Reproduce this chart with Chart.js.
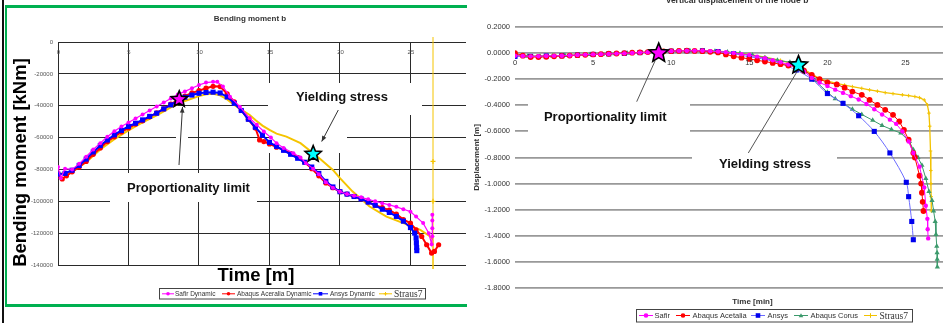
<!DOCTYPE html>
<html>
<head>
<meta charset="utf-8">
<script src="https://cdn.jsdelivr.net/npm/chart.js@4.4.0/dist/chart.umd.min.js"></script>
<style>
  html, body { margin: 0; padding: 0; background: #fff; }
  #wrap { position: relative; width: 948px; height: 323px; overflow: hidden; }
  canvas { position: absolute; left: 0; top: 0; }
  .ln { position: absolute; }
</style>
</head>
<body>
<div id="wrap">
  <div class="ln" style="left:1.5px;top:0;width:2px;height:323px;background:#111"></div>
  <div class="ln" style="left:4.5px;top:5px;width:462px;height:2.5px;background:#00b050"></div>
  <div class="ln" style="left:4.5px;top:5px;width:2.5px;height:301px;background:#00b050"></div>
  <div class="ln" style="left:4.5px;top:303.5px;width:462px;height:3px;background:#00b050"></div>
  <canvas id="left" width="948" height="323"></canvas>
  <canvas id="right" width="948" height="323"></canvas>
</div>
<script>
// ---- left chart : bending moment b (time, kNm) ----
const leftSafirT = [0,0.2,0.5,1,1.5,2,2.5,3,3.5,4,4.5,5,5.5,6,6.5,7,7.5,8,8.5,9,9.5,10,10.5,11,11.3,11.7,12.2,12.9,13.6,14.1,14.6,15.1,15.5,16,16.7,17.2,17.6,18.1,18.5,19,19.5,20,20.5,21,21.5,22,22.5,23,23.5,24,24.5,25,25.4,25.9,26.3,26.5,26.55,26.55,26.55,26.55];
const leftSafirM = [-78500,-85500,-79500,-80000,-76500,-72000,-67500,-63500,-59500,-56000,-53000,-50500,-48000,-45500,-43000,-40500,-38000,-35500,-33000,-31000,-29000,-27000,-25500,-25000,-25000,-28000,-34300,-40600,-47900,-52000,-56200,-60000,-63500,-66500,-69800,-72500,-76100,-79500,-83000,-88000,-91500,-94000,-95500,-96500,-97500,-98800,-100000,-101200,-102300,-103500,-105000,-106500,-109600,-113700,-120000,-127000,-122000,-117000,-112000,-108500];

const leftAbaqusT = [0,0.3,0.6,1,1.5,2,2.5,3,3.5,4,4.5,5,5.5,6,6.5,7,7.5,8,8.5,9,9.5,10,10.5,11,11.5,12,12.5,13,13.5,14,14.3,14.6,15,15.5,16,16.5,17,17.5,18,18.5,19,19.5,20,20.5,21,21.5,22,22.5,23,23.5,24,24.5,25,25.4,25.8,26.15,26.5,26.7,27];
const leftAbaqusM = [-83500,-86000,-84000,-81500,-78500,-75000,-70500,-66500,-62500,-59500,-56500,-54000,-51500,-49500,-47000,-44500,-42000,-39000,-36500,-34000,-32000,-30500,-29000,-27800,-28000,-32500,-37500,-43000,-48500,-54000,-61500,-62500,-64000,-66000,-67700,-70000,-72500,-75500,-79500,-84000,-88500,-91500,-94000,-95500,-97000,-98500,-100500,-102500,-104000,-105500,-108000,-111500,-113700,-117900,-122100,-127300,-132500,-131500,-127300];

const leftAnsysT = [0,0.5,1,1.5,2,2.5,3,3.5,4,4.5,5,5.5,6,6.5,7,7.5,8,8.5,9,9.5,10,10.5,11,11.5,12,12.5,13,13.5,14,14.5,15,15.5,16,16.5,17,17.5,18,18.5,19,19.5,20,20.5,21,21.5,22,22.5,23,23.5,24,24.5,25,25.3,25.4,25.42,25.44,25.45];
const leftAnsysM = [-83000,-82500,-80500,-77500,-73500,-69000,-65000,-61500,-58300,-55500,-53000,-51000,-48900,-46700,-44700,-42000,-39500,-37000,-34700,-33300,-32200,-31700,-31500,-32000,-34500,-38500,-43000,-48500,-53500,-58500,-63000,-65500,-68000,-70500,-73000,-75500,-78500,-82500,-87500,-91000,-94000,-95500,-97000,-98500,-100500,-102500,-105000,-107000,-109500,-112500,-116500,-120000,-123000,-126000,-129000,-131000];

const leftStrausT = [0,1,2,3,4,5,6,7,8,9,10,10.5,11,11.5,12,12.5,13,13.6,14,14.5,15,15.5,16.2,17.2,18.1,18.6,19.5,20,20.9,22.1,23.3,24.5,25.7,26.4,26.6,26.6,26.6,26.6,26.6];
const leftStrausM = [-83000,-81500,-75500,-67500,-61000,-55500,-50500,-46000,-41000,-37000,-34000,-32800,-32500,-33500,-36000,-39500,-42500,-45800,-49000,-52500,-55200,-57500,-59400,-63500,-69800,-73500,-80300,-85500,-93900,-103300,-109600,-113700,-117900,-122100,-124000,-145000,-100000,-75000,5000];
const leftStrausMarked = [36, 37];

const leftStarT = [8.6, 18.1];
const leftStarM = [-36000, -70400];

// ---- right chart : vertical displacement of the node b (time, m) ----
const rightSafirT = [0,0.5,1,1.5,2,2.5,3,3.5,4,4.5,5,5.5,6,6.5,7,7.5,8,8.5,9,9.5,10,10.5,11,11.5,12,12.5,13,13.5,14,14.5,15,15.5,16,16.5,17,17.5,18,18.5,19,19.5,20,20.5,21,21.5,22,22.5,23,23.5,24,24.4,24.8,25.2,25.5,25.9,26.2,26.3,26.4,26.42,26.45];
const rightSafirD = [-0.02,-0.022,-0.025,-0.024,-0.022,-0.021,-0.02,-0.018,-0.015,-0.012,-0.01,-0.008,-0.006,-0.004,-0.002,0.001,0.004,0.007,0.01,0.012,0.015,0.017,0.018,0.018,0.018,0.015,0.012,0.006,0.0,-0.008,-0.015,-0.027,-0.04,-0.055,-0.07,-0.087,-0.105,-0.14,-0.19,-0.225,-0.252,-0.28,-0.305,-0.33,-0.355,-0.39,-0.43,-0.47,-0.51,-0.542,-0.6,-0.677,-0.766,-0.87,-1.03,-1.17,-1.27,-1.35,-1.42];

const rightAbaqusT = [0,0.5,1,1.5,2,2.5,3,3.5,4,4.5,5,5.5,6,6.5,7,7.5,8,8.5,9,9.5,10,10.5,11,11.5,12,12.5,13,13.5,14,14.5,15,15.5,16,16.5,17,17.5,18,18.5,19,19.5,20,20.6,21.1,21.6,22.2,22.7,23.2,23.7,24.2,24.6,24.9,25.2,25.5,25.6,25.9,26,26.05,26.1,26.15];
const rightAbaqusD = [0.0,-0.02,-0.03,-0.03,-0.028,-0.025,-0.022,-0.019,-0.016,-0.013,-0.01,-0.008,-0.005,-0.003,0.0,0.003,0.005,0.008,0.01,0.013,0.015,0.017,0.018,0.017,0.015,0.01,0.005,-0.01,-0.025,-0.035,-0.045,-0.055,-0.065,-0.075,-0.085,-0.095,-0.105,-0.135,-0.168,-0.2,-0.224,-0.24,-0.265,-0.295,-0.32,-0.359,-0.397,-0.435,-0.473,-0.524,-0.588,-0.664,-0.766,-0.8,-0.94,-1.0,-1.07,-1.14,-1.21];

const rightAnsysT = [0,1,2,3,4,5,6,7,8,9,10,11,12,13,14,15,16,17,18,19,20,21,22,23,24,25.05,25.2,25.4,25.5];
const rightAnsysD = [-0.025,-0.025,-0.022,-0.02,-0.015,-0.01,-0.006,-0.002,0.004,0.01,0.015,0.018,0.018,0.012,-0.005,-0.028,-0.048,-0.079,-0.13,-0.2,-0.31,-0.385,-0.48,-0.6,-0.765,-0.99,-1.1,-1.29,-1.43];

const rightCorusT = [0,0.8,1.6,2.4,3.2,4,4.8,5.6,6.4,7.2,8,8.8,9.6,10.4,11.2,12,12.8,13.6,14.4,15.2,16,16.8,17.6,18.4,19.2,20,20.5,21,21.6,22.2,22.9,23.5,24.1,24.7,25.25,25.5,25.8,26.05,26.3,26.5,26.7,26.8,26.9,26.95,27,27.02,27.03,27.04];
const rightCorusD = [-0.02,-0.024,-0.024,-0.022,-0.019,-0.015,-0.011,-0.008,-0.005,-0.001,0.004,0.008,0.012,0.016,0.018,0.018,0.014,0.008,-0.002,-0.015,-0.035,-0.055,-0.07,-0.11,-0.21,-0.3,-0.35,-0.385,-0.43,-0.47,-0.515,-0.555,-0.585,-0.613,-0.677,-0.74,-0.8,-0.86,-0.96,-1.06,-1.13,-1.21,-1.29,-1.39,-1.48,-1.53,-1.58,-1.64];

const rightStrausT = [0,1,2,3,4,5,6,7,8,9,10,11,12,13,14,15,16,17,18,18.5,19,19.5,20,20.6,21.1,21.6,22.2,22.7,23.2,23.7,24.2,24.8,25.2,25.6,25.9,26.2,26.4,26.5,26.55,26.6,26.62,26.63,26.64,26.65];
const rightStrausD = [-0.02,-0.024,-0.022,-0.02,-0.015,-0.01,-0.006,-0.002,0.004,0.01,0.015,0.018,0.018,0.014,0.004,-0.01,-0.03,-0.055,-0.09,-0.125,-0.16,-0.195,-0.215,-0.232,-0.245,-0.257,-0.27,-0.282,-0.292,-0.303,-0.311,-0.32,-0.326,-0.333,-0.342,-0.359,-0.397,-0.46,-0.56,-0.75,-0.9,-1.0,-1.1,-1.21];

const rightStarT = [9.2, 18.15];
const rightStarD = [0.0, -0.092];

const SANS = '"Liberation Sans", Arial, sans-serif';
const SERIF = '"Liberation Serif", "Times New Roman", serif';

function pts(ts, vs) {
  return ts.map((t, i) => ({ x: t, y: vs[i] }));
}

function drawMarker(ctx, style, x, y, r, color) {
  ctx.save();
  ctx.fillStyle = color;
  ctx.strokeStyle = color;
  ctx.lineWidth = 1;
  ctx.beginPath();
  if (style === 'rect') {
    ctx.rect(x - r, y - r, 2 * r, 2 * r);
    ctx.fill();
  } else if (style === 'triangle') {
    ctx.moveTo(x, y - r);
    ctx.lineTo(x + r, y + r * 0.75);
    ctx.lineTo(x - r, y + r * 0.75);
    ctx.closePath();
    ctx.fill();
  } else if (style === 'cross') {
    ctx.moveTo(x - r, y); ctx.lineTo(x + r, y);
    ctx.moveTo(x, y - r); ctx.lineTo(x, y + r);
    ctx.stroke();
  } else {
    ctx.arc(x, y, r, 0, Math.PI * 2);
    ctx.fill();
  }
  ctx.restore();
}

function star(ctx, x, y, R, fill) {
  ctx.save();
  ctx.beginPath();
  for (let i = 0; i < 10; i++) {
    const a = -Math.PI / 2 + i * Math.PI / 5;
    const rad = i % 2 ? R * 0.45 : R;
    ctx.lineTo(x + rad * Math.cos(a), y + rad * Math.sin(a));
  }
  ctx.closePath();
  ctx.fillStyle = fill;
  ctx.fill();
  ctx.lineWidth = 1.6;
  ctx.strokeStyle = '#000';
  ctx.lineJoin = 'miter';
  ctx.stroke();
  ctx.restore();
}

// annotations, stars, legend and titles drawn on top of the chart
function notes(cfg) {
  return {
    id: 'notes',
    beforeDatasetsDraw(chart) {
      const ctx = chart.ctx;
      ctx.save();
      ctx.fillStyle = '#fff';
      cfg.boxes.forEach(b => ctx.fillRect(b[0], b[1], b[2], b[3]));
      ctx.restore();
    },
    afterDatasetsDraw(chart) {
      const ctx = chart.ctx;
      const xs = chart.scales.x, ys = chart.scales.y;
      // x tick labels sit inside the plot, next to the crossing line
      ctx.save();
      ctx.font = cfg.xTickFont;
      ctx.fillStyle = cfg.xTickColor;
      ctx.textAlign = 'center';
      ctx.textBaseline = 'middle';
      xs.ticks.forEach(t => ctx.fillText(String(t.value), xs.getPixelForValue(t.value) + cfg.xTickDx, cfg.xTickY));
      ctx.restore();

      // arrows
      ctx.save();
      ctx.strokeStyle = cfg.arrowColor;
      ctx.fillStyle = cfg.arrowColor;
      ctx.lineWidth = 1;
      cfg.arrows.forEach(a => {
        const [x1, y1, x2, y2, head] = a;
        ctx.beginPath(); ctx.moveTo(x1, y1); ctx.lineTo(x2, y2); ctx.stroke();
        if (head) {
          const ang = Math.atan2(y2 - y1, x2 - x1);
          ctx.beginPath();
          ctx.moveTo(x2, y2);
          ctx.lineTo(x2 - 6 * Math.cos(ang - 0.4), y2 - 6 * Math.sin(ang - 0.4));
          ctx.lineTo(x2 - 6 * Math.cos(ang + 0.4), y2 - 6 * Math.sin(ang + 0.4));
          ctx.closePath();
          ctx.fill();
        }
      });
      ctx.restore();

      // stars
      cfg.starT.forEach((t, i) => {
        star(ctx, xs.getPixelForValue(t), ys.getPixelForValue(cfg.starV[i]), cfg.starR[i], cfg.starColors[i]);
      });
    },
    afterDraw(chart) {
      const ctx = chart.ctx;
      // texts
      cfg.texts.forEach(tx => {
        const [s, x, y, font, color, rot] = tx;
        ctx.save();
        ctx.translate(x, y);
        if (rot) ctx.rotate(rot * Math.PI / 180);
        ctx.font = font;
        ctx.fillStyle = color;
        ctx.textAlign = 'center';
        ctx.textBaseline = 'alphabetic';
        ctx.fillText(s, 0, 0);
        ctx.restore();
      });
      // legend
      const lg = cfg.legend;
      ctx.save();
      ctx.fillStyle = '#fff';
      ctx.fillRect(lg.box[0], lg.box[1], lg.box[2], lg.box[3]);
      ctx.strokeStyle = '#444';
      ctx.lineWidth = 1;
      ctx.strokeRect(lg.box[0], lg.box[1], lg.box[2], lg.box[3]);
      chart.data.datasets.forEach((ds, i) => {
        const [x1, x2, tx] = lg.items[i];
        ctx.strokeStyle = ds.borderColor;
        ctx.lineWidth = 1;
        ctx.beginPath(); ctx.moveTo(x1, lg.y); ctx.lineTo(x2, lg.y); ctx.stroke();
        drawMarker(ctx, ds.pointStyle, (x1 + x2) / 2, lg.y, lg.marker, ds.backgroundColor);
        ctx.font = ds.label === 'Straus7' ? lg.serifFont : lg.font;
        ctx.fillStyle = '#333';
        ctx.textAlign = 'left';
        ctx.textBaseline = 'middle';
        ctx.fillText(ds.label, tx, lg.y + 0.5);
      });
      ctx.restore();
    }
  };
}

const leftNotes = {
  boxes: [[268, 83, 154, 32], [269, 83, 78, 70], [110, 173, 147, 29], [176, 128, 12, 14]],
  arrows: [[179, 165, 182.5, 107, true], [338.3, 110, 321.7, 141.5, true]],
  arrowColor: '#333',
  texts: [
    ['Bending moment b', 250, 21, 'bold 8px ' + SANS, '#333', 0],
    ['Yielding stress', 342, 101, 'bold 13px ' + SANS, '#111', 0],
    ['Proportionality limit', 188.5, 191.5, 'bold 13px ' + SANS, '#111', 0],
    ['Time [m]', 256, 281, 'bold 18.5px ' + SANS, '#000', 0],
    ['Bending moment [kNm]', 26, 162.5, 'bold 18.5px ' + SANS, '#000', -90]
  ],
  starT: leftStarT, starV: leftStarM, starR: [8.5, 8.5], starColors: ['#ff00ff', '#00ffff'],
  xTickY: 52, xTickDx: 0.5, xTickFont: '6px ' + SANS, xTickColor: '#555',
  legend: {
    box: [159.5, 288.5, 266, 10.5], y: 293.8, marker: 1.8,
    font: '6.5px ' + SANS, serifFont: '9.5px ' + SERIF,
    items: [[162, 174, 175], [222, 235, 237], [313, 328, 330], [379, 392, 394]]
  }
};

const rightNotes = {
  boxes: [[528, 98, 162, 40], [692, 140, 145, 40]],
  arrows: [[636.7, 101.7, 655, 61], [748.3, 153, 798, 70]],
  arrowColor: '#555',
  texts: [
    ['Vertical displacement of the node b', 737, 2.5, 'bold 8.5px ' + SANS, '#333', 0],
    ['Proportionality limit', 605.3, 120.7, 'bold 13px ' + SANS, '#111', 0],
    ['Yielding stress', 765, 168.3, 'bold 13px ' + SANS, '#111', 0],
    ['Time [min]', 752.5, 303.5, 'bold 8px ' + SANS, '#333', 0],
    ['Displacement [m]', 478.5, 157.5, 'bold 8px ' + SANS, '#333', -90]
  ],
  starT: rightStarT, starV: rightStarD, starR: [10, 9.5], starColors: ['#ff00ff', '#00ffff'],
  xTickY: 63, xTickDx: 0, xTickFont: '7.5px ' + SANS, xTickColor: '#333',
  legend: {
    box: [636.5, 309.5, 276, 12.5], y: 315.5, marker: 2.3,
    font: '7.5px ' + SANS, serifFont: '9.5px ' + SERIF,
    items: [[639, 653, 654.5], [676, 690, 692.5], [751, 765, 767.5], [794, 808, 810.5], [864, 877, 879.5]]
  }
};

const common = {
  responsive: false,
  animation: false,
  events: [],
  plugins: { legend: { display: false }, tooltip: { enabled: false } }
};

new Chart(document.getElementById('left'), {
  type: 'scatter',
  data: {
    datasets: [
      { label: 'Safir Dynamic', data: pts(leftSafirT, leftSafirM), showLine: true, order: 0,
        borderColor: '#ff00ff', backgroundColor: '#ff00ff', borderWidth: 1.2,
        pointStyle: 'circle', pointRadius: 2, pointBorderWidth: 0 },
      { label: 'Abaqus Aceralia Dynamic', data: pts(leftAbaqusT, leftAbaqusM), showLine: true, order: 2,
        borderColor: '#ff0000', backgroundColor: '#ff0000', borderWidth: 2,
        pointStyle: 'circle', pointRadius: 2.6, pointBorderWidth: 0 },
      { label: 'Ansys Dynamic', data: pts(leftAnsysT, leftAnsysM), showLine: true, order: 1,
        borderColor: '#0000ff', backgroundColor: '#0000ff', borderWidth: 2,
        pointStyle: 'rect', pointRadius: 3.6, pointBorderWidth: 0 },
      { label: 'Straus7', data: pts(leftStrausT, leftStrausM), showLine: true, order: 3,
        borderColor: '#f5c400', backgroundColor: '#f5c400', borderWidth: 2,
        pointStyle: 'cross', pointBorderWidth: 1.2,
        pointRadius: leftStrausT.map((t, i) => leftStrausMarked.includes(i) ? 2.5 : 0),
        segment: { borderWidth: c => c.p0.parsed.x === c.p1.parsed.x ? 1 : 2 },
        clip: { left: 0, top: 5, right: 0, bottom: 4 } }
    ]
  },
  options: Object.assign({}, common, {
    layout: { padding: { left: 0, top: 42, right: 482, bottom: 58 } },
    scales: {
      x: {
        type: 'linear', position: 'top', min: 0, max: 28.94,
        ticks: { display: false, stepSize: 5, includeBounds: false },
        grid: { color: '#2a2a2a', lineWidth: 1, drawTicks: false },
        border: { display: false },
        afterFit: s => { s.height = 0; }
      },
      y: {
        type: 'linear', min: -140000, max: 0,
        ticks: { stepSize: 20000, padding: 5, color: '#555',
          font: { family: SANS, size: 6 }, callback: v => String(v) },
        grid: { color: '#2a2a2a', lineWidth: 1, drawTicks: false },
        border: { display: false },
        afterFit: s => { s.width = 58; }
      }
    }
  }),
  plugins: [notes(leftNotes)]
});

new Chart(document.getElementById('right'), {
  type: 'scatter',
  data: {
    datasets: [
      { label: 'Safir', data: pts(rightSafirT, rightSafirD), showLine: true,
        borderColor: '#ff00ff', backgroundColor: '#ff00ff', borderWidth: 1,
        pointStyle: 'circle', pointRadius: 2.2, pointBorderWidth: 0 },
      { label: 'Abaqus Acetalia', data: pts(rightAbaqusT, rightAbaqusD), showLine: true,
        borderColor: '#ff0000', backgroundColor: '#ff0000', borderWidth: 1,
        pointStyle: 'circle', pointRadius: 2.9, pointBorderWidth: 0 },
      { label: 'Ansys', data: pts(rightAnsysT, rightAnsysD), showLine: true, tension: 0.3,
        borderColor: '#6b6bff', backgroundColor: '#0000ee', borderWidth: 1,
        pointStyle: 'rect', pointRadius: 3.6, pointBorderWidth: 0 },
      { label: 'Abaqus Corus', data: pts(rightCorusT, rightCorusD), showLine: true,
        borderColor: '#3c9a6c', backgroundColor: '#3c9a6c', borderWidth: 1,
        pointStyle: 'triangle', pointRadius: 3, pointBorderWidth: 0 },
      { label: 'Straus7', data: pts(rightStrausT, rightStrausD), showLine: true,
        borderColor: '#f2c200', backgroundColor: '#f2c200', borderWidth: 1.3,
        pointStyle: 'cross', pointRadius: 1.8, pointBorderWidth: 1 }
    ]
  },
  options: Object.assign({}, common, {
    layout: { padding: { left: 470, top: 27, right: 0, bottom: 35 } },
    scales: {
      x: {
        type: 'linear', min: 0, max: 27.4,
        ticks: { display: false, stepSize: 5, includeBounds: false },
        grid: { display: false, drawTicks: false },
        border: { display: false },
        afterFit: s => { s.height = 0; }
      },
      y: {
        type: 'linear', min: -1.8, max: 0.2,
        ticks: { stepSize: 0.2, padding: 5, color: '#333',
          font: { family: SANS, size: 7.5 }, callback: v => v.toFixed(4) },
        grid: { color: '#999', lineWidth: 1.8, drawTicks: false },
        border: { display: false },
        afterFit: s => { s.width = 45; }
      }
    }
  }),
  plugins: [notes(rightNotes)]
});
</script>
</body>
</html>
